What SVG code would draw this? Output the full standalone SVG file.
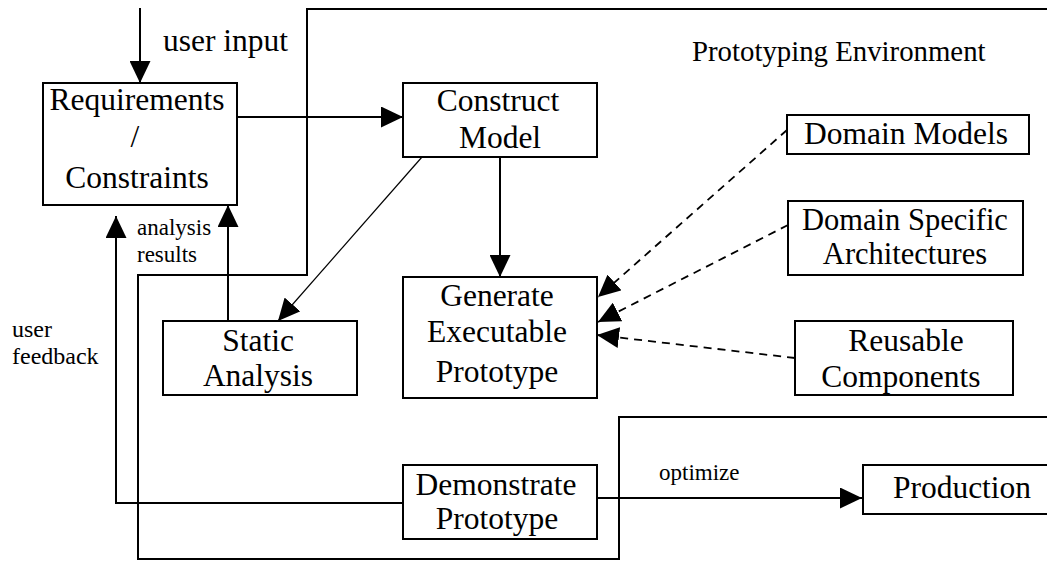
<svg xmlns="http://www.w3.org/2000/svg" width="1047" height="561" viewBox="0 0 1047 561">
<style>
text{font-family:"Liberation Serif","Times New Roman",serif;fill:#000}
.lbl{font-size:31.5px;text-anchor:middle}
.sm{font-size:23px}
.box{fill:#fff;stroke:#000;stroke-width:2}
.ln{fill:none;stroke:#000;stroke-width:2}
.thin{fill:none;stroke:#000;stroke-width:1.2}
.dash{fill:none;stroke:#000;stroke-width:1.8;stroke-dasharray:8 6}
</style>
<defs>
<marker id="ah" markerUnits="userSpaceOnUse" markerWidth="22" markerHeight="21" refX="22" refY="10.5" orient="auto">
<path d="M0,0 L22,10.5 L0,21 z" fill="#000" stroke="none"/>
</marker>
</defs>
<rect width="1047" height="561" fill="#fff"/>
<g id="environment">
<polyline class="ln" points="1050,9 307,9 307,275 138,275 138,559 619,559 619,417 1050,417"/>
<text x="692" y="61" style="font-size:28.8px">Prototyping Environment</text>
</g>
<g id="connectors">
<line class="ln" x1="140" y1="8" x2="140" y2="83" marker-end="url(#ah)"/>
<line class="ln" x1="237" y1="117" x2="403" y2="117" marker-end="url(#ah)"/>
<line class="ln" x1="500" y1="157" x2="500" y2="277" marker-end="url(#ah)"/>
<line class="thin" x1="422" y1="157" x2="278" y2="321" marker-end="url(#ah)"/>
<line class="ln" x1="228" y1="321" x2="228" y2="205" marker-end="url(#ah)"/>
<polyline class="ln" points="403,503 116,503 116,216" marker-end="url(#ah)"/>
<line class="ln" x1="597" y1="498" x2="862" y2="498" marker-end="url(#ah)"/>
<line class="dash" x1="787" y1="130" x2="598" y2="297" marker-end="url(#ah)"/>
<line class="dash" x1="788" y1="225" x2="598" y2="322" marker-end="url(#ah)"/>
<line class="dash" x1="795" y1="358" x2="597" y2="335" marker-end="url(#ah)"/>
<text x="163" y="51" style="font-size:31.5px">user input</text>
<text class="sm" x="137" y="235">analysis</text>
<text class="sm" x="137" y="262">results</text>
<text x="12" y="337" style="font-size:24px">user</text>
<text x="12" y="364" style="font-size:24px">feedback</text>
<text class="sm" x="659" y="480">optimize</text>
</g>
<g id="requirements">
<rect class="box" x="43" y="83" width="194" height="122"/>
<text class="lbl" x="137" y="110">Requirements</text>
<text class="lbl" x="135" y="147">/</text>
<text class="lbl" x="137" y="188">Constraints</text>
</g>
<g id="construct-model">
<rect class="box" x="403" y="83" width="194" height="74"/>
<text class="lbl" x="498" y="111">Construct</text>
<text class="lbl" x="500" y="148">Model</text>
</g>
<g id="static-analysis">
<rect class="box" x="163" y="321" width="194" height="74"/>
<text class="lbl" x="258" y="351">Static</text>
<text class="lbl" x="258" y="386">Analysis</text>
</g>
<g id="generate-prototype">
<rect class="box" x="403" y="277" width="194" height="121"/>
<text class="lbl" x="497" y="306">Generate</text>
<text class="lbl" x="497" y="342">Executable</text>
<text class="lbl" x="497" y="382">Prototype</text>
</g>
<g id="demonstrate-prototype">
<rect class="box" x="403" y="465" width="194" height="74"/>
<text class="lbl" x="496" y="495">Demonstrate</text>
<text class="lbl" x="497" y="529">Prototype</text>
</g>
<g id="production">
<rect class="box" x="863" y="465" width="200" height="49"/>
<text class="lbl" x="962" y="498">Production</text>
</g>
<g id="domain-models">
<rect class="box" x="787" y="115" width="242" height="39"/>
<text class="lbl" x="906" y="144">Domain Models</text>
</g>
<g id="domain-specific-architectures">
<rect class="box" x="788" y="201" width="235" height="74"/>
<text class="lbl" x="905" y="230" style="font-size:30.5px">Domain Specific</text>
<text class="lbl" x="905" y="264" style="font-size:30.5px">Architectures</text>
</g>
<g id="reusable-components">
<rect class="box" x="795" y="321" width="218" height="74"/>
<text class="lbl" x="906" y="351">Reusable</text>
<text class="lbl" x="901" y="387">Components</text>
</g>
</svg>
